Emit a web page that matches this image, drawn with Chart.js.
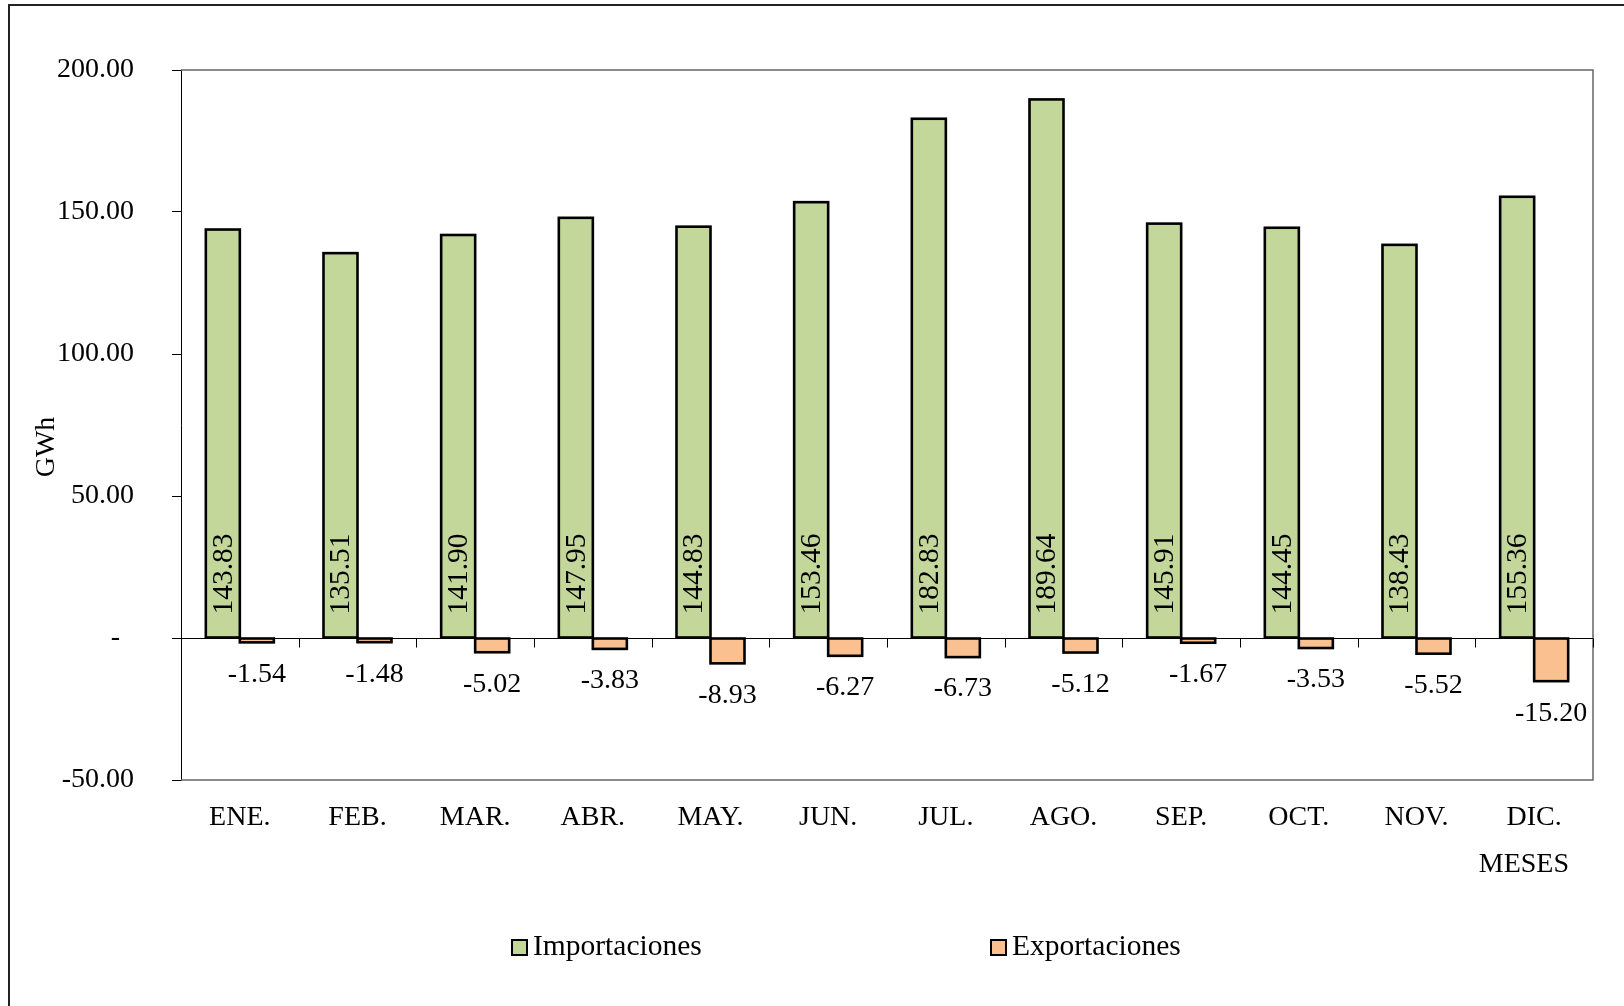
<!DOCTYPE html>
<html>
<head>
<meta charset="utf-8">
<script src="https://cdn.jsdelivr.net/npm/chart.js@4.4.1/dist/chart.umd.min.js"></script>
<style>
  html, body { margin: 0; padding: 0; background: #fff; }
  canvas { display: block; }
</style>
</head>
<body>
<canvas id="barChart" width="1624" height="1006"></canvas>
<script>
const months = ['ENE.', 'FEB.', 'MAR.', 'ABR.', 'MAY.', 'JUN.', 'JUL.', 'AGO.', 'SEP.', 'OCT.', 'NOV.', 'DIC.'];
const importaciones = [143.83, 135.51, 141.90, 147.95, 144.83, 153.46, 182.83, 189.64, 145.91, 144.45, 138.43, 155.36];
const exportaciones = [-1.54, -1.48, -5.02, -3.83, -8.93, -6.27, -6.73, -5.12, -1.67, -3.53, -5.52, -15.20];
const yMin = -50, yMax = 200, yStep = 50;

const FONT = '"Liberation Serif", "Times New Roman", serif';
const green = '#C4D79B';
const orange = '#FAC090';

// extra drawing: frame, zero line, bar outlines, labels, legend, axis titles
const extras = {
    id: 'extras',
    beforeDraw(chart) {
        const c = chart.ctx;
        c.save();
        c.fillStyle = '#fff';
        c.fillRect(0, 0, chart.width, chart.height);
        c.strokeStyle = '#222';
        c.lineWidth = 2;
        c.strokeRect(9, 5, chart.width + 20, chart.height + 20);
        c.restore();
    },
    afterDatasetsDraw(chart) {
        const c = chart.ctx;
        const a = chart.chartArea;
        const y = chart.scales.y;
        const y0 = Math.round(y.getPixelForValue(0)) + 0.5;
        c.save();
        // plot frame (top, right, bottom)
        c.strokeStyle = '#666';
        c.lineWidth = 1.5;
        c.beginPath();
        c.moveTo(a.left, a.top); c.lineTo(a.right, a.top); c.lineTo(a.right, a.bottom); c.lineTo(a.left, a.bottom);
        c.stroke();
        // zero line and category ticks
        c.strokeStyle = '#000';
        c.lineWidth = 1;
        c.beginPath();
        c.moveTo(a.left, y0); c.lineTo(a.right, y0);
        const cw = (a.right - a.left) / months.length;
        for (let k = 0; k <= months.length; k++) {
            const px = Math.round(a.left + k * cw) + 0.5;
            c.moveTo(px, y0); c.lineTo(px, y0 + 9);
        }
        c.stroke();

        // bar outlines, centred on the edges like the original
        c.lineWidth = 2.6;
        c.lineJoin = 'miter';
        [0, 1].forEach(d => {
            chart.getDatasetMeta(d).data.forEach(bar => {
                const l = bar.x - bar.width / 2;
                const t = Math.min(bar.y, bar.base);
                const h = Math.abs(bar.base - bar.y);
                c.strokeRect(l, t, bar.width, h);
            });
        });

        c.fillStyle = '#000';
        // value labels
        c.font = '29.5px ' + FONT;
        chart.getDatasetMeta(0).data.forEach((bar, i) => {
            c.save();
            c.translate(bar.x, y0 - 24);
            c.rotate(-Math.PI / 2);
            c.textAlign = 'left';
            c.textBaseline = 'middle';
            c.fillText(importaciones[i].toFixed(2), 0, 1);
            c.restore();
        });
        c.font = '28px ' + FONT;
        chart.getDatasetMeta(1).data.forEach((bar, i) => {
            c.textAlign = 'center';
            c.textBaseline = 'middle';
            c.fillText(exportaciones[i].toFixed(2), bar.x, bar.y + 32);
        });

        // axis titles
        c.textAlign = 'right';
        c.textBaseline = 'middle';
        c.fillText('MESES', 1569, 865);
        c.save();
        c.translate(47, 447);
        c.rotate(-Math.PI / 2);
        c.textAlign = 'center';
        c.fillText('GWh', 0, 0);
        c.restore();

        // legend
        c.font = '29.5px ' + FONT;
        const items = [['Importaciones', green, 512], ['Exportaciones', orange, 991]];
        items.forEach(([txt, col, lx]) => {
            c.fillStyle = col;
            c.fillRect(lx, 940, 15, 15);
            c.strokeStyle = '#000';
            c.lineWidth = 2;
            c.strokeRect(lx, 940, 15, 15);
            c.fillStyle = '#000';
            c.textAlign = 'left';
            c.fillText(txt, lx + 21, 947);
        });
        c.restore();
    }
};

const ctx = document.getElementById('barChart').getContext('2d');
const barChart = new Chart(ctx, {
    type: 'bar',
    data: {
        labels: months,
        datasets: [{
            label: 'Importaciones',
            data: importaciones,
            backgroundColor: green,
            borderWidth: 0
        }, {
            label: 'Exportaciones',
            data: exportaciones,
            backgroundColor: orange,
            borderWidth: 0
        }]
    },
    options: {
        responsive: false,
        animation: false,
        devicePixelRatio: 1,
        categoryPercentage: 0.578,
        barPercentage: 1,
        layout: { padding: { top: 70, right: 31, bottom: 0, left: 0 } },
        plugins: {
            legend: { display: false },
            tooltip: { enabled: false }
        },
        scales: {
            x: {
                grid: { display: false },
                border: { display: false },
                ticks: {
                    color: '#000',
                    font: { family: FONT, size: 28 },
                    padding: 13,
                    maxRotation: 0
                },
                afterFit(scale) { scale.height = 226; }
            },
            y: {
                min: yMin,
                max: yMax,
                grid: { drawOnChartArea: false, drawTicks: true, tickLength: 9, color: '#000' },
                border: { display: true, color: '#000', width: 1 },
                ticks: {
                    stepSize: yStep,
                    color: '#000',
                    padding: 38,
                    font: { family: FONT, size: 28 },
                    callback: v => v === 0 ? '-  ' : v.toFixed(2)
                },
                afterFit(scale) { scale.width = 181; }
            }
        }
    },
    plugins: [extras]
});
</script>
</body>
</html>
